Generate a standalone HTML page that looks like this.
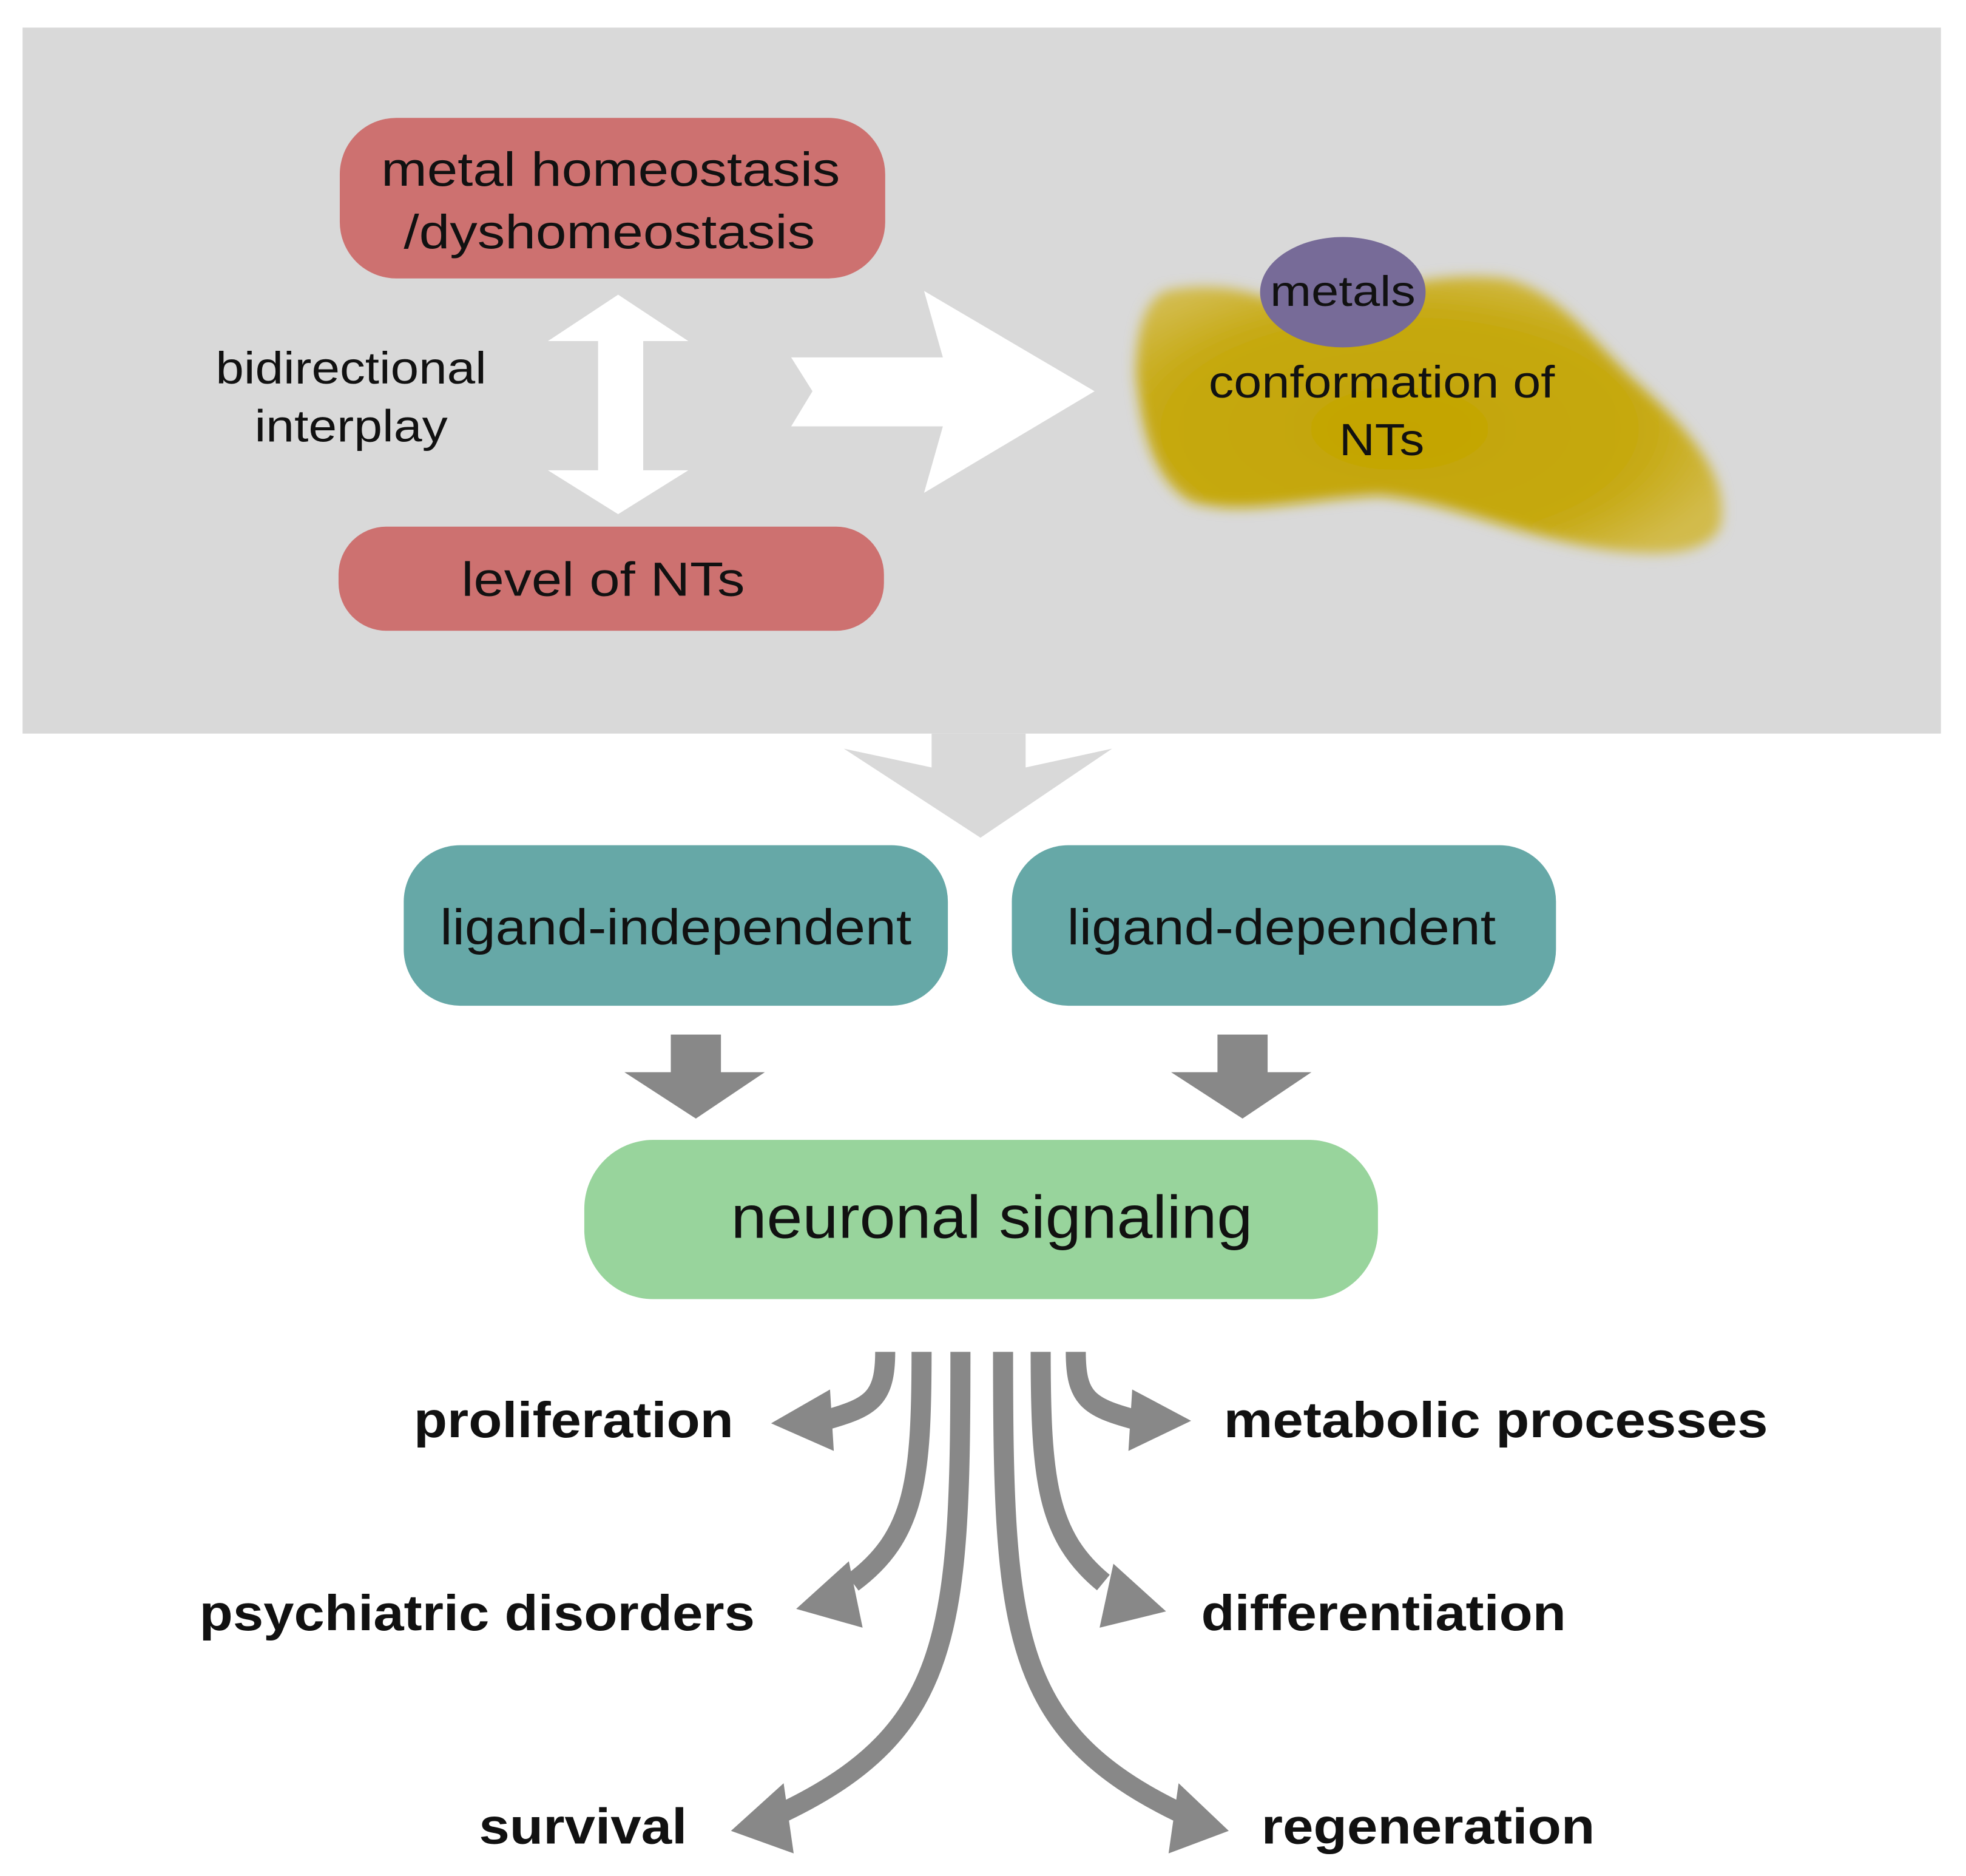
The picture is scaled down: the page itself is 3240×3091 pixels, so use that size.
<!DOCTYPE html>
<html><head><meta charset="utf-8"><style>html,body{margin:0;padding:0;background:#fff}svg{display:block}text{font-family:"Liberation Sans",Arial,sans-serif;fill:#111}</style></head>
<body>
<svg width="3240" height="3091" viewBox="0 0 1568 1496" preserveAspectRatio="none" xmlns="http://www.w3.org/2000/svg">
<defs><filter id="bl" x="-10%" y="-10%" width="120%" height="120%"><feGaussianBlur stdDeviation="5"/></filter>
<radialGradient id="yg" cx="0.45" cy="0.55" r="0.6"><stop offset="0" stop-color="#c3a400"/><stop offset="0.7" stop-color="#c6a912"/><stop offset="1" stop-color="#d2bb4c"/></radialGradient></defs>
<rect x="0" y="0" width="1568" height="1496" fill="#fff"/>
<rect x="18" y="22" width="1530" height="563" fill="#d9d9d9"/>
<!-- red boxes -->
<rect x="271" y="94" width="435" height="128" rx="45" fill="#cd7170"/>
<text x="487" y="148" font-size="38" text-anchor="middle" textLength="366" lengthAdjust="spacingAndGlyphs">metal homeostasis</text>
<text x="486" y="198" font-size="38" text-anchor="middle" textLength="328" lengthAdjust="spacingAndGlyphs">/dyshomeostasis</text>
<rect x="270" y="420" width="435" height="83" rx="38" fill="#cd7170"/>
<text x="481" y="475" font-size="38" text-anchor="middle" textLength="226" lengthAdjust="spacingAndGlyphs">level of NTs</text>
<!-- bidirectional -->
<text x="280" y="306" font-size="36" text-anchor="middle" textLength="216" lengthAdjust="spacingAndGlyphs">bidirectional</text>
<text x="280" y="352" font-size="36" text-anchor="middle" textLength="154" lengthAdjust="spacingAndGlyphs">interplay</text>
<polygon fill="#fff" points="493,235 549,272 513,272 513,375 549,375 493,410 437,375 477,375 477,272 437,272"/>
<polygon fill="#fff" points="631,285 752,285 737,232 873,312 737,393 752,340 631,340 648,312"/>
<!-- blob -->
<path filter="url(#bl)" fill="url(#yg)" d="M930,232 C980,222 1010,238 1040,248 C1090,235 1140,215 1200,222 C1240,232 1260,260 1300,300 C1350,345 1380,380 1372,420 C1360,448 1300,445 1240,430 C1190,418 1150,400 1100,395 C1040,398 990,412 950,400 C915,380 910,330 906,300 C906,265 912,240 930,232 Z"/>
<ellipse cx="1071" cy="233" rx="66" ry="44" fill="#776b98"/>
<text x="1071" y="244" font-size="34" text-anchor="middle" textLength="116" lengthAdjust="spacingAndGlyphs">metals</text>
<text x="1102" y="317" font-size="36" text-anchor="middle" textLength="276" lengthAdjust="spacingAndGlyphs">conformation of</text>
<text x="1102" y="363" font-size="36" text-anchor="middle" textLength="68" lengthAdjust="spacingAndGlyphs">NTs</text>
<!-- gray down arrow -->
<polygon fill="#d9d9d9" points="743,585 818,585 818,612 887,597 782,668 673,597 743,612"/>
<!-- teal -->
<rect x="322" y="674" width="434" height="128" rx="45" fill="#66a8a7"/>
<text x="539" y="753" font-size="40" text-anchor="middle" textLength="376" lengthAdjust="spacingAndGlyphs">ligand-independent</text>
<rect x="807" y="674" width="434" height="128" rx="45" fill="#66a8a7"/>
<text x="1022" y="753" font-size="40" text-anchor="middle" textLength="342" lengthAdjust="spacingAndGlyphs">ligand-dependent</text>
<polygon fill="#888" points="535,825 575,825 575,855 610,855 555,892 498,855 535,855"/>
<polygon fill="#888" points="971,825 1011,825 1011,855 1046,855 991,892 934,855 971,855"/>
<!-- green -->
<rect x="466" y="909" width="633" height="127" rx="55" fill="#98d49c"/>
<text x="791" y="987" font-size="48" text-anchor="middle" textLength="416" lengthAdjust="spacingAndGlyphs">neuronal signaling</text>
<!-- curved arrows -->
<g fill="none" stroke="#888" stroke-width="16">
<path d="M706,1078 C706,1115 695,1122 660,1132"/>
<path d="M735,1078 C735,1180 730,1225 680,1262"/>
<path d="M766,1078 C766,1300 760,1380 625,1445"/>
<path d="M830,1078 C830,1180 835,1225 880,1262"/>
<path d="M858,1078 C858,1115 868,1122 905,1132"/>
<path d="M800,1078 C800,1300 806,1380 940,1445"/>
</g>
<g fill="#888">
<polygon points="615,1135 662,1108 665,1157"/>
<polygon points="635,1283 677,1245 688,1298"/>
<polygon points="583,1460 625,1422 633,1478"/>
<polygon points="950,1133 903,1108 900,1157"/>
<polygon points="930,1285 888,1247 877,1298"/>
<polygon points="980,1460 940,1422 932,1478"/>
</g>
<g font-weight="bold" font-size="40">
<text x="585" y="1146" text-anchor="end" textLength="255" lengthAdjust="spacingAndGlyphs">proliferation</text>
<text x="602" y="1300" text-anchor="end" textLength="443" lengthAdjust="spacingAndGlyphs">psychiatric disorders</text>
<text x="548" y="1470" text-anchor="end" textLength="166" lengthAdjust="spacingAndGlyphs">survival</text>
<text x="976" y="1146" textLength="434" lengthAdjust="spacingAndGlyphs">metabolic processes</text>
<text x="958" y="1300" textLength="291" lengthAdjust="spacingAndGlyphs">differentiation</text>
<text x="1006" y="1470" textLength="266" lengthAdjust="spacingAndGlyphs">regeneration</text>
</g>
</svg>
</body></html>
